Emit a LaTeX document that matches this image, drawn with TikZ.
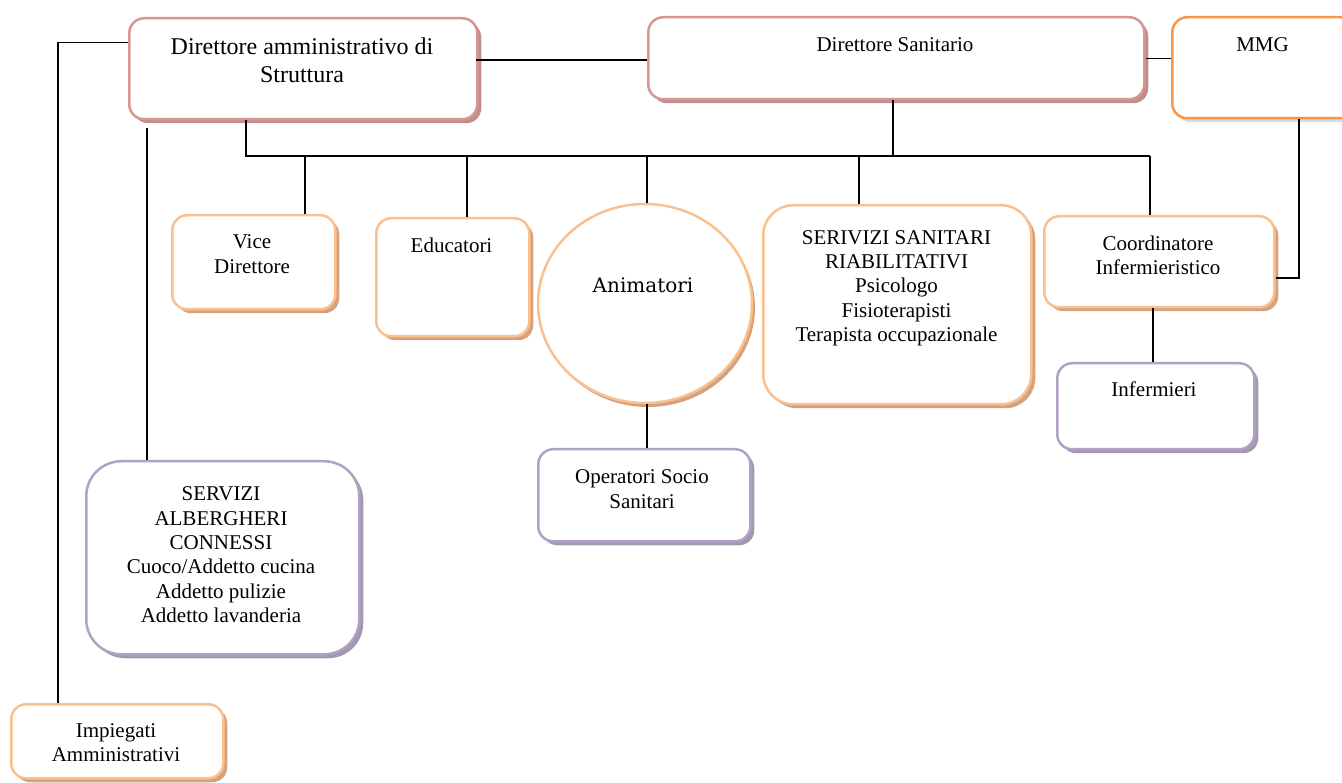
\documentclass[tikz,border=0pt]{standalone}
\usepackage{fontspec}
\setmainfont{Liberation Serif}
\newfontfamily\slabfont{DejaVu Serif}
\usetikzlibrary{shadows,shapes.geometric}
\definecolor{pinkB}{HTML}{D99594}
\definecolor{pinkS}{HTML}{BF8F8E}
\definecolor{orgB}{HTML}{F79646}
\definecolor{orgS}{HTML}{DADADA}
\definecolor{lorB}{HTML}{FAC090}
\definecolor{lorS}{HTML}{D6A27E}
\definecolor{purB}{HTML}{B2A1C7}
\definecolor{purS}{HTML}{A299AE}
\tikzset{
  boxbase/.style={draw, fill=white, line width=2.5pt, rounded corners=15pt, anchor=north west, inner sep=0pt},
  pinkbox/.style={boxbase, draw=pinkB, drop shadow={shadow xshift=4pt, shadow yshift=-4pt, fill=pinkS, opacity=1}},
  orangebox/.style={boxbase, draw=orgB, drop shadow={shadow xshift=4pt, shadow yshift=-4pt, fill=orgS, opacity=1}},
  lorbox/.style={boxbase, draw=lorB, drop shadow={shadow xshift=4pt, shadow yshift=-4pt, fill=lorS, opacity=1}},
  purbox/.style={boxbase, draw=purB, drop shadow={shadow xshift=4pt, shadow yshift=-4pt, fill=purS, opacity=1}},
  txt/.style={align=center, inner sep=0pt, anchor=base, font=\fontsize{21}{24.4}\selectfont},
  conn/.style={draw=black, line width=1.5pt}
}
\begin{document}
\begin{tikzpicture}[x=1pt,y=-1pt]
\useasboundingbox (0,0) rectangle (1342,783);
% boxes
\node[pinkbox, minimum width=348pt, minimum height=101pt] (dam) at (128,17) {};
\node[pinkbox, minimum width=496pt, minimum height=82pt] (dsan) at (647,16) {};
\node[orangebox, minimum width=183pt, minimum height=101pt] (mmg) at (1171,16) {};
\node[lorbox, minimum width=163pt, minimum height=94pt] (vice) at (171,214) {};
\node[lorbox, minimum width=153pt, minimum height=118pt] (edu) at (375,217) {};
\node[ellipse, draw=lorB, fill=white, line width=2.5pt, minimum width=214pt, minimum height=199pt, inner sep=0pt,
  drop shadow={shadow xshift=3pt, shadow yshift=-4pt, fill=lorS, opacity=1}] (anim) at (645,303.5) {};
\node[lorbox, rounded corners=30pt, minimum width=268pt, minimum height=199pt] (ssan) at (762,204) {};
\node[lorbox, minimum width=230pt, minimum height=91pt] (coord) at (1043,215) {};
\node[purbox, minimum width=197pt, minimum height=86pt] (inf) at (1056,362) {};
\node[purbox, minimum width=212pt, minimum height=92pt] (oss) at (537,448) {};
\node[purbox, rounded corners=35pt, minimum width=273pt, minimum height=193pt] (salb) at (85,460) {};
\node[lorbox, minimum width=212pt, minimum height=74pt] (imp) at (10,703) {};
% texts (anchor = baseline of the last line)
\node[txt, font=\fontsize{24}{27.7}\selectfont] (tdam) at (302,82.7) {Direttore amministrativo di\\Struttura};
\node[txt] (tdsan) at (895,51.7) {Direttore Sanitario};
\node[txt] (tmmg) at (1262.5,51.7) {MMG};
\node[txt] (tvice) at (252,273.3) {Vice\\Direttore};
\node[txt] (tedu) at (451.5,252.7) {Educatori};
\node[txt, font=\slabfont\fontsize{20}{24}\selectfont] (tanim) at (643,293) {Animatori};
\node[txt] (tssan) at (896.5,341.7) {SERIVIZI SANITARI\\RIABILITATIVI\\Psicologo\\Fisioterapisti\\Terapista occupazionale};
\node[txt] (tcoord) at (1158,275) {Coordinatore\\Infermieristico};
\node[txt] (tinf) at (1154,397) {Infermieri};
\node[txt] (toss) at (642,508.3) {Operatori Socio\\Sanitari};
\node[txt] (tsalb) at (221,622.7) {SERVIZI\\ALBERGHERI\\CONNESSI\\Cuoco/Addetto cucina\\Addetto pulizie\\Addetto lavanderia};
\node[txt] (timp) at (116,761.7) {Impiegati\\Amministrativi};
% connector coordinates
\coordinate (j1) at (476,60);
\coordinate (bL) at (246,156);
\coordinate (bR) at (1150,156);
\coordinate (b2) at (305,156);
\coordinate (b3) at (467,156);
\coordinate (b4) at (647,156);
\coordinate (b5) at (859,156);
\coordinate (m1) at (1299,278);
\coordinate (s1) at (147,128);
\coordinate (l1) at (58,42.7);
\coordinate (c1) at (1153,0);
% connectors
\draw[conn] (j1) -- (j1 -| dsan.west);
\draw[conn] (dsan.east |- 0,58.3) -- (mmg.west |- 0,58.3);
\draw[conn] (bL |- dam.south) -- (bL) -- (bR);
\draw[conn] (dsan.south -| 893,0) -- (893,156);
\draw[conn] (b2) -- (b2 |- vice.north);
\draw[conn] (b3) -- (b3 |- edu.north);
\draw[conn] (b4) -- (b4 |- anim.north);
\draw[conn] (b5) -- (b5 |- ssan.north);
\draw[conn] (bR) -- (bR |- coord.north);
\draw[conn] (m1 |- mmg.south) -- (m1) -- (m1 -| coord.east);
\draw[conn] (c1 |- coord.south) -- (c1 |- inf.north);
\draw[conn] (b4 |- anim.south) -- (b4 |- oss.north);
\draw[conn] (s1) -- (s1 |- salb.north);
\draw[conn] (l1 -| dam.west) -- (l1) -- (l1 |- imp.north);
\end{tikzpicture}
\end{document}
